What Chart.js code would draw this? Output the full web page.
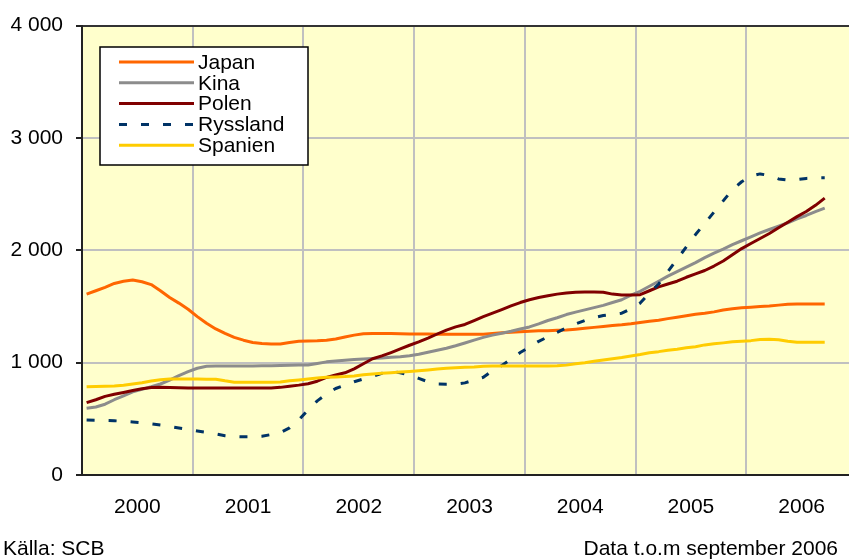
<!DOCTYPE html>
<html>
<head>
<meta charset="utf-8">
<script src="https://cdn.jsdelivr.net/npm/chart.js@4/dist/chart.umd.min.js"></script>
<style>
  html, body { margin: 0; padding: 0; background: #ffffff; }
  #wrap { position: relative; width: 849px; height: 559px; overflow: hidden; }
  #wrap canvas { position: absolute; left: 0; top: 0; }
  .note { position: absolute; font-family: "Liberation Sans", Arial, sans-serif; font-size: 21px; color: #000; white-space: nowrap; }
  #src { left: 3px; top: 536px; }
  #upd { right: 11px; top: 536px; }
</style>
</head>
<body>
<div id="wrap">
  <canvas id="c" width="860" height="559" style="width:860px;height:559px"></canvas>
  <div class="note" id="src">Källa: SCB</div>
  <div class="note" id="upd">Data t.o.m september 2006</div>
</div>
<script>
// Monthly series, January 2000 to September 2006 (81 months)
const years = ['2000', '2001', '2002', '2003', '2004', '2005', '2006'];
const yTicks = [0, 1000, 2000, 3000, 4000];
const seriesNames = ['Japan', 'Kina', 'Polen', 'Ryssland', 'Spanien'];

const japan = [
  1610, 1640, 1670, 1705, 1725, 1735, 1720, 1695, 1640, 1580, 1530, 1475,
  1410, 1350, 1300, 1260, 1225, 1200, 1180, 1170, 1166, 1166, 1180, 1190,
  1193, 1195, 1200, 1210, 1228, 1245, 1258, 1260, 1260, 1260, 1258, 1256,
  1255, 1254, 1253, 1252, 1252, 1252, 1252, 1253, 1260, 1266, 1270, 1276,
  1280, 1283, 1285, 1288, 1290, 1298, 1306, 1314, 1322, 1330, 1337, 1346,
  1358, 1368, 1378, 1392, 1405, 1418, 1430, 1440, 1452, 1468, 1480, 1488,
  1494, 1500, 1505, 1512, 1520, 1522, 1523, 1523, 1523
];
const kina = [
  594, 605, 630, 670, 705, 740, 762, 785, 810, 845, 885, 920,
  950, 968, 971, 971, 971, 971, 971, 972, 973, 975, 977, 978,
  980, 993, 1007, 1015, 1022, 1029, 1033, 1037, 1042, 1047, 1053, 1062,
  1075, 1092, 1110, 1128, 1150, 1175, 1200, 1225, 1245, 1262, 1280, 1300,
  1318, 1345, 1375, 1400, 1428, 1450, 1470, 1490, 1510, 1535, 1560, 1600,
  1635, 1680, 1725, 1770, 1810, 1850, 1890, 1935, 1975, 2010, 2050, 2085,
  2120, 2155, 2185, 2215, 2245, 2280, 2310, 2345, 2375
];
const polen = [
  644, 670, 700, 718, 735, 752, 768, 778, 780, 778, 776, 775,
  775, 775, 775, 775, 775, 775, 775, 775, 775, 780, 790, 800,
  812, 835, 868, 890, 910, 945, 990, 1035, 1060, 1090, 1122, 1155,
  1185, 1218, 1255, 1290, 1318, 1340, 1375, 1410, 1440, 1472, 1505, 1535,
  1560, 1580, 1595, 1610, 1620, 1627, 1628, 1628, 1627, 1610, 1603, 1603,
  1605, 1640, 1675, 1700, 1725, 1760, 1790, 1820, 1860, 1905, 1960, 2015,
  2060, 2105, 2150, 2200, 2250, 2300, 2345, 2400, 2464
];
const ryssland = [
  490, 488, 485, 483, 478, 472, 465, 455, 445, 432, 418, 405,
  392, 380, 366, 350, 342, 340, 340, 345, 360, 378, 420, 490,
  580, 660, 720, 770, 800, 830, 855, 878, 905, 920, 910, 890,
  860, 830, 810, 808, 808, 820, 845, 870, 930, 975, 1030, 1090,
  1140, 1190, 1230, 1270, 1310, 1345, 1375, 1400, 1420, 1430, 1440, 1480,
  1530, 1620, 1700, 1810, 1920, 2030, 2140, 2240, 2340, 2440, 2540, 2610,
  2660, 2680, 2665, 2635, 2625, 2630, 2640, 2645, 2645
];
const spanien = [
  786, 788, 790, 792, 798, 810, 822, 836, 848, 854, 855, 855,
  855, 853, 852, 838, 826, 825, 825, 825, 825, 828, 838, 846,
  855, 863, 870, 873, 876, 882, 892, 900, 906, 911, 916, 922,
  928, 935, 943, 950, 954, 958, 962, 968, 971, 971, 971, 971,
  971, 971, 971, 972, 978, 990, 1000, 1012, 1024, 1035, 1046, 1060,
  1072, 1088, 1098, 1110, 1120, 1132, 1142, 1158, 1168, 1176, 1185, 1190,
  1196, 1206, 1208, 1204, 1190, 1182, 1182, 1182, 1182
];

const colors = ['#ff6600', '#8c8c8c', '#800000', '#003366', '#ffcc00'];
const dashes = [[], [], [], [8, 14], []];
const values = [japan, kina, polen, ryssland, spanien];

const FONT = '"Liberation Sans", Arial, sans-serif';
const FONT_SIZE = 21;
const toPoints = arr => arr.map((v, i) => ({ x: i, y: v }));

const datasets = seriesNames.map((name, k) => ({
  label: name,
  data: toPoints(values[k]),
  borderColor: colors[k],
  backgroundColor: colors[k],
  borderWidth: 3,
  borderDash: dashes[k],
  borderCapStyle: 'butt',
  borderJoinStyle: 'round',
  pointRadius: 0,
  tension: 0,
  fill: false,
  order: seriesNames.length - k
}));

// pale yellow plot background
const plotBackground = {
  id: 'plotBackground',
  beforeDraw(chart) {
    const { ctx, chartArea: a } = chart;
    ctx.save();
    ctx.fillStyle = '#ffffcc';
    ctx.fillRect(a.left, a.top, a.right - a.left, a.bottom - a.top);
    ctx.restore();
  }
};

// boxed legend in the upper left of the plot
const boxLegend = {
  id: 'boxLegend',
  afterDraw(chart) {
    const { ctx } = chart;
    const bx = 100, by = 47, bw = 208, bh = 118;
    ctx.save();
    ctx.fillStyle = '#ffffff';
    ctx.fillRect(bx, by, bw, bh);
    ctx.strokeStyle = '#000000';
    ctx.lineWidth = 1.5;
    ctx.strokeRect(bx, by, bw, bh);
    ctx.font = FONT_SIZE + 'px ' + FONT;
    ctx.textBaseline = 'middle';
    ctx.textAlign = 'left';
    chart.data.datasets.forEach((ds, k) => {
      const y = 62 + k * 20.8;
      ctx.beginPath();
      ctx.strokeStyle = ds.borderColor;
      ctx.lineWidth = 3;
      ctx.setLineDash(ds.borderDash || []);
      ctx.moveTo(119, y);
      ctx.lineTo(194, y);
      ctx.stroke();
      ctx.setLineDash([]);
      ctx.fillStyle = '#000000';
      ctx.fillText(ds.label, 198, y + 1);
    });
    ctx.restore();
  }
};

const yearGrid = years.slice(1).map((_, i) => 11.5 + 12 * i);
const yearMid = years.map((_, i) => 5.5 + 12 * i);

new Chart(document.getElementById('c'), {
  type: 'line',
  data: { datasets },
  plugins: [plotBackground, boxLegend],
  options: {
    responsive: false,
    animation: false,
    events: [],
    layout: { padding: { top: 25, right: 3, left: 0, bottom: 0 } },
    plugins: { legend: { display: false }, tooltip: { enabled: false } },
    scales: {
      x: {
        type: 'linear',
        position: 'bottom',
        weight: 0,
        min: -0.5,
        max: 83.5,
        afterBuildTicks: s => { s.ticks = yearGrid.map(v => ({ value: v })); },
        afterFit: s => { s.height = 0; },
        ticks: { display: false },
        grid: { color: '#c0c0c0', lineWidth: 2, drawTicks: false },
        border: { display: true, color: '#222222', width: 2 }
      },
      xLabels: {
        type: 'linear',
        position: 'bottom',
        weight: 1,
        min: -0.5,
        max: 83.5,
        afterBuildTicks: s => { s.ticks = yearMid.map(v => ({ value: v })); },
        afterFit: s => { s.height = 84; },
        ticks: {
          autoSkip: false,
          maxRotation: 0,
          padding: 20,
          color: '#000000',
          font: { family: FONT, size: FONT_SIZE },
          callback: (v, i) => years[i]
        },
        grid: { display: false, drawTicks: false },
        border: { display: false }
      },
      y: {
        min: 0,
        max: 4000,
        afterBuildTicks: s => { s.ticks = yTicks.map(v => ({ value: v })); },
        afterFit: s => { s.width = 82; },
        ticks: {
          padding: 13,
          color: '#000000',
          font: { family: FONT, size: FONT_SIZE },
          callback: v => String(v).replace(/\B(?=(\d{3})+(?!\d))/g, ' ')
        },
        grid: {
          color: ctx => (ctx.tick && ctx.tick.value === 4000 ? '#333333' : '#c0c0c0'),
          lineWidth: 2,
          tickColor: '#222222',
          tickLength: 6,
          drawTicks: true
        },
        border: { display: true, color: '#222222', width: 2 }
      }
    }
  }
});
</script>
</body>
</html>
